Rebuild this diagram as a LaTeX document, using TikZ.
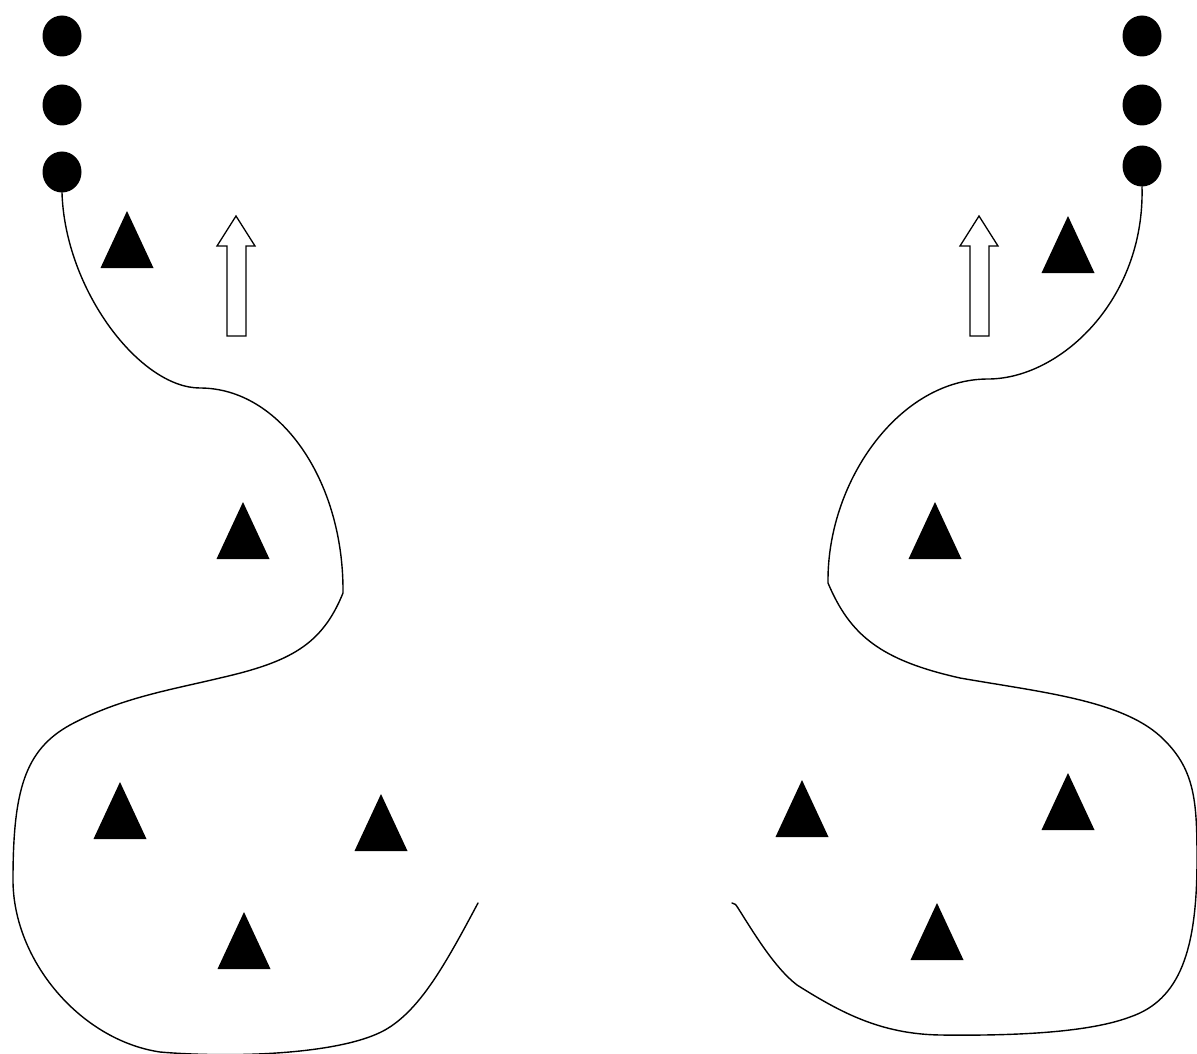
\documentclass[tikz,border=0pt]{standalone}
\usetikzlibrary{shapes.geometric}
\begin{document}
\begin{tikzpicture}[x=1pt,y=-1pt,
  dot/.style={ellipse,fill=black,inner sep=0pt,minimum width=39pt,minimum height=41pt},
  curve/.style={line width=1.4pt,line join=round,line cap=round},
  hollowarrow/.style={draw=black,fill=white,line width=1.3pt,line join=miter},
  tri/.pic={\fill[black] (-26.5,28.5) -- (0,-28.5) -- (26.5,28.5) -- cycle;}]
\useasboundingbox (0,0) rectangle (1197,1054);
% dots
\node[dot] (l1) at (62,36) {};
\node[dot] (l2) at (62,105) {};
\node[dot] (l3) at (62,172) {};
\node[dot] (r1) at (1142,36) {};
\node[dot] (r2) at (1142,105) {};
\node[dot] (r3) at (1142,166) {};
% triangles
\pic at (127,239.5) {tri};
\pic at (243,530.5) {tri};
\pic at (120,810.5) {tri};
\pic at (381,822.5) {tri};
\pic at (244,940.5) {tri};
\pic at (1068,244.5) {tri};
\pic at (935,530.5) {tri};
\pic at (802,808.5) {tri};
\pic at (1068,801.5) {tri};
\pic at (937,931.5) {tri};
% hollow arrows
\draw[hollowarrow] (227,336) -- (227,246) -- (217,246) -- (236,216) -- (255,246) -- (246,246) -- (246,336) -- cycle;
\draw[hollowarrow] (970,336) -- (970,246) -- (960,246) -- (979,216) -- (998,246) -- (989,246) -- (989,336) -- cycle;
% left curve
\coordinate (lend) at (478,903);
\draw[curve] (l3.south) .. controls (65,290) and (140,388) .. (200,388)
  .. controls (280,388) and (343,480) .. (343,590) -- (343,593)
  .. controls (322,645) and (290,662) .. (220,678)
  .. controls (170,690) and (120,698) .. (70,725)
  .. controls (25,750) and (13,790) .. (13,880)
  .. controls (13,960) and (80,1040) .. (160,1052)
  .. controls (230,1058) and (340,1055) .. (385,1030)
  .. controls (420,1010) and (445,965) .. (lend);
% right curve
\coordinate (rend) at (732,903);
\draw[curve] (r3.south) .. controls (1145,300) and (1060,379) .. (988,379)
  .. controls (900,379) and (828,480) .. (828,580) -- (828,583)
  .. controls (850,635) and (880,660) .. (960,678)
  .. controls (1040,692) and (1120,700) .. (1160,736)
  .. controls (1195,768) and (1197,800) .. (1197,860)
  .. controls (1197,950) and (1180,1000) .. (1130,1017)
  .. controls (1090,1032) and (1020,1036) .. (940,1035)
  .. controls (880,1034) and (840,1012) .. (797,985)
  .. controls (775,968) and (755,935) .. (738,908)
  .. controls (736,905) and (735,903) .. (rend);
\end{tikzpicture}
\end{document}
